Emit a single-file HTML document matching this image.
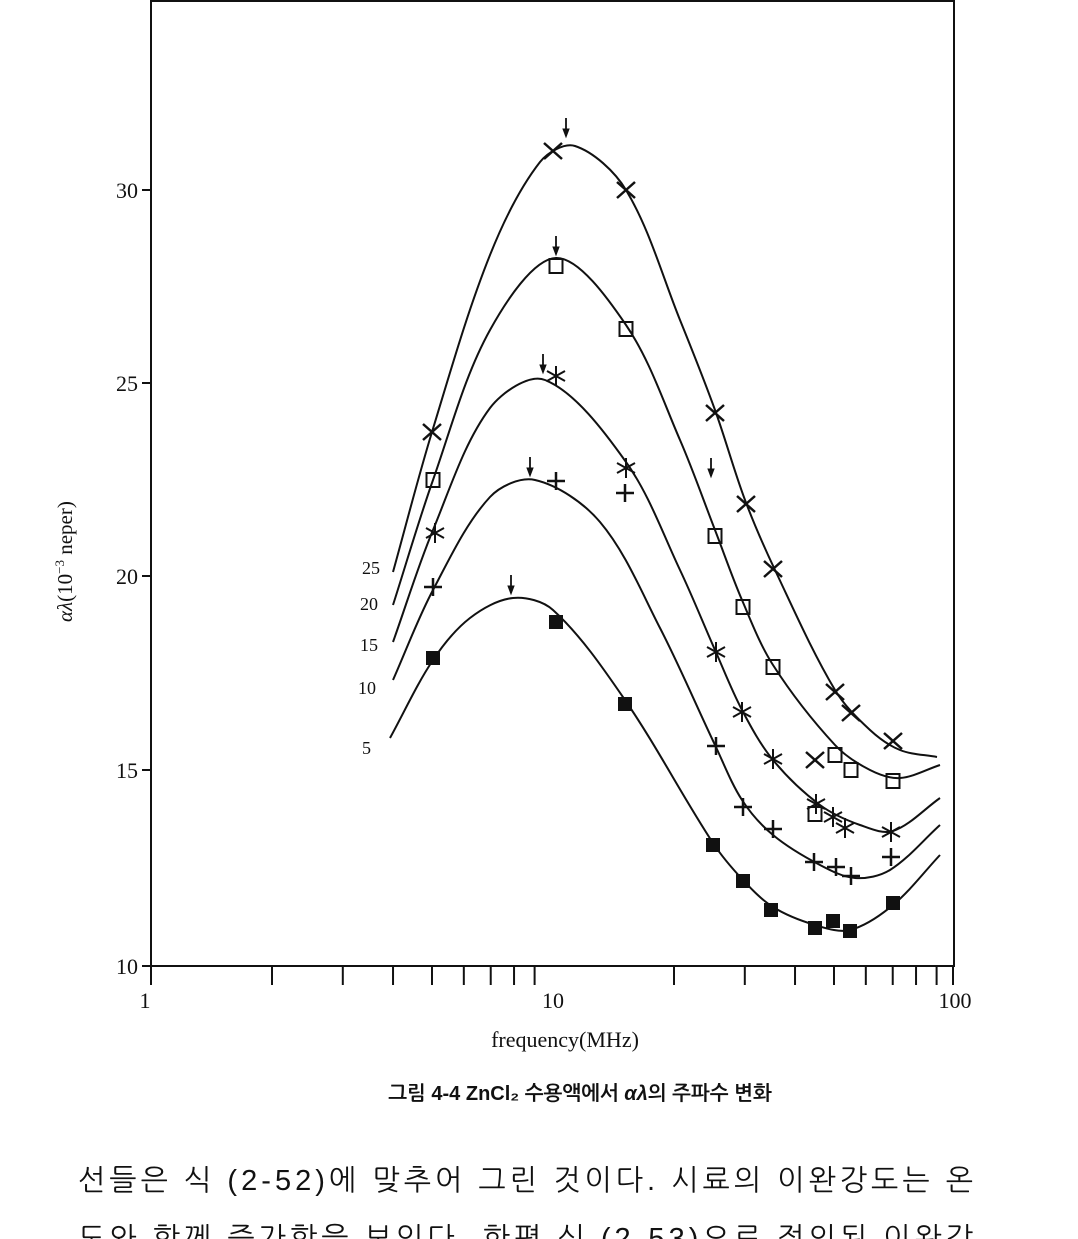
<!DOCTYPE html>
<html><head><meta charset="utf-8"><style>
html,body{margin:0;padding:0;background:#fff;}
body{width:1078px;height:1239px;overflow:hidden;position:relative;}
svg{position:absolute;left:0;top:0;}
text{font-family:"Liberation Serif",serif;fill:#111;}
.k{font-family:"Liberation Sans","NanumGothic","Noto Sans CJK KR",sans-serif;fill:#111;}
</style></head><body>
<svg id="s" width="1078" height="1239" viewBox="0 0 1078 1239">
<g stroke="#111" stroke-width="2" fill="none">
<line x1="151" y1="0" x2="151" y2="967"/>
<line x1="150" y1="966" x2="955" y2="966"/>
<line x1="954" y1="0" x2="954" y2="967"/>
<line x1="150" y1="1" x2="955" y2="1"/>
</g>
<g id="ticks" stroke="#111" stroke-width="2"></g>
<g font-size="22">
<text x="145" y="1008" text-anchor="middle">1</text>
<text x="553" y="1008" text-anchor="middle">10</text>
<text x="955" y="1008" text-anchor="middle">100</text>
<text x="565" y="1047" text-anchor="middle">frequency(MHz)</text>
<text x="138" y="974" text-anchor="end">10</text>
<text x="138" y="778" text-anchor="end">15</text>
<text x="138" y="584" text-anchor="end">20</text>
<text x="138" y="391" text-anchor="end">25</text>
<text x="138" y="198" text-anchor="end">30</text>
<text transform="translate(72,622) rotate(-90)" font-size="21"><tspan font-style="italic">αλ</tspan>(10<tspan dy="-8" font-size="13">−3</tspan><tspan dy="8">  neper)</tspan></text>
</g>
<g font-size="18">
<text x="362" y="574">25</text><text x="360" y="610">20</text><text x="360" y="651">15</text><text x="358" y="694">10</text><text x="362" y="754">5</text>
</g>
<g id="curves" stroke="#111" stroke-width="2" fill="none"></g>
<g id="marks" stroke="#111" stroke-width="2.5" fill="none"></g>
<text class="k" x="580" y="1100" text-anchor="middle" font-size="20" font-weight="bold">그림 4-4  ZnCl₂ 수용액에서 <tspan font-style="italic">αλ</tspan>의 주파수 변화</text>
<text class="k" x="78" y="1190" font-size="29" textLength="895">선들은 식 (2-52)에 맞추어 그린 것이다. 시료의 이완강도는 온</text>
<text class="k" x="78" y="1248" font-size="29" textLength="895">도와 함께 증가함을 보인다. 한편 식 (2-53)으로 정의된 이완강</text>
</svg>
<script>
const NS="http://www.w3.org/2000/svg";
function el(p,t,a){const e=document.createElementNS(NS,t);for(const k in a)e.setAttribute(k,a[k]);p.appendChild(e);return e;}
const tk=document.getElementById('ticks');
function X(f){return 151+402*Math.log10(f);}
for(const d of [1,10])for(let i=2;i<=9;i++){const x=X(d*i);el(tk,'line',{x1:x,y1:966,x2:x,y2:985});}
el(tk,'line',{x1:151,y1:966,x2:151,y2:985});el(tk,'line',{x1:953,y1:966,x2:953,y2:985});
for(const y of [966,770,576,383,190])el(tk,'line',{x1:142,y1:y,x2:151,y2:y});
function cr(p){const n=p.length,t=[0];for(let i=1;i<n;i++)t.push(t[i-1]+Math.hypot(p[i][0]-p[i-1][0],p[i][1]-p[i-1][1]));
const m=p.map((q,i)=>{const a=Math.max(0,i-1),b=Math.min(n-1,i+1);return[(p[b][0]-p[a][0])/(t[b]-t[a]),(p[b][1]-p[a][1])/(t[b]-t[a])];});
let d=`M${p[0][0]},${p[0][1]}`;for(let i=0;i<n-1;i++){const h=(t[i+1]-t[i])/3;
d+=` C${p[i][0]+m[i][0]*h},${p[i][1]+m[i][1]*h} ${p[i+1][0]-m[i+1][0]*h},${p[i+1][1]-m[i+1][1]*h} ${p[i+1][0]},${p[i+1][1]}`;}return d;}
const C=[
[[393,572],[432,432],[490,255],[540,162],[575,146],[626,190],[680,320],[715,410],[745,500],[775,570],[835,690],[870,730],[900,750],[937,757]],
[[393,605],[433,480],[490,330],[556,258],[626,325],[680,440],[715,530],[742,600],[773,665],[835,745],[870,770],[900,778],[940,765]],
[[393,642],[433,530],[490,408],[545,380],[626,462],[680,570],[715,650],[742,710],[773,760],[820,805],[860,825],[893,831],[940,798]],
[[393,680],[433,590],[490,497],[535,480],[600,522],[660,628],[715,745],[742,800],[773,835],[820,865],[855,878],[890,870],[940,825]],
[[390,738],[433,660],[470,618],[513,598],[553,610],[625,700],[713,843],[743,880],[773,907],[815,925],[850,930],[893,905],[940,855]]];
const cg=document.getElementById('curves');C.forEach(p=>el(cg,'path',{d:cr(p)}));
const mg=document.getElementById('marks');
function cross(x,y){el(mg,'path',{d:`M${x-9},${y-8}L${x+9},${y+8}M${x+9},${y-8}L${x-9},${y+8}`});}
function sq(x,y){el(mg,'rect',{x:x-6.5,y:y-7,width:13,height:14,'stroke-width':2});}
function star(x,y){el(mg,'path',{d:`M${x},${y-10}L${x},${y+10}M${x-9},${y-5}L${x+9},${y+5}M${x+9},${y-5}L${x-9},${y+5}`,'stroke-width':2});}
function plus(x,y){el(mg,'path',{d:`M${x-9},${y}L${x+9},${y}M${x},${y-9}L${x},${y+9}`});}
function fsq(x,y){el(mg,'rect',{x:x-7,y:y-7,width:14,height:14,fill:'#111',stroke:'none'});}
[[432,432],[553,151],[626,190],[715,413],[746,504],[773,569],[835,692],[851,713],[893,741],[815,760]].forEach(p=>cross(...p));
[[433,480],[556,266],[626,329],[715,536],[743,607],[773,667],[835,755],[851,770],[893,781],[815,814]].forEach(p=>sq(...p));
[[435,533],[556,376],[626,468],[716,652],[742,712],[773,759],[816,804],[833,817],[845,828],[891,832]].forEach(p=>star(...p));
[[433,587],[556,481],[625,493],[716,746],[743,807],[773,829],[814,862],[836,867],[851,876],[891,857]].forEach(p=>plus(...p));
[[433,658],[556,622],[625,704],[713,845],[743,881],[771,910],[815,928],[833,921],[850,931],[893,903]].forEach(p=>fsq(...p));
[[566,118],[556,236],[543,354],[530,457],[511,575],[711,458]].forEach(([x,y])=>{el(mg,'path',{d:`M${x},${y}L${x},${y+18}`,'stroke-width':1.8});el(mg,'path',{d:`M${x-3},${y+11}L${x},${y+19}L${x+3},${y+11}Z`,fill:'#111','stroke-width':1});});
</script>
</body></html>
